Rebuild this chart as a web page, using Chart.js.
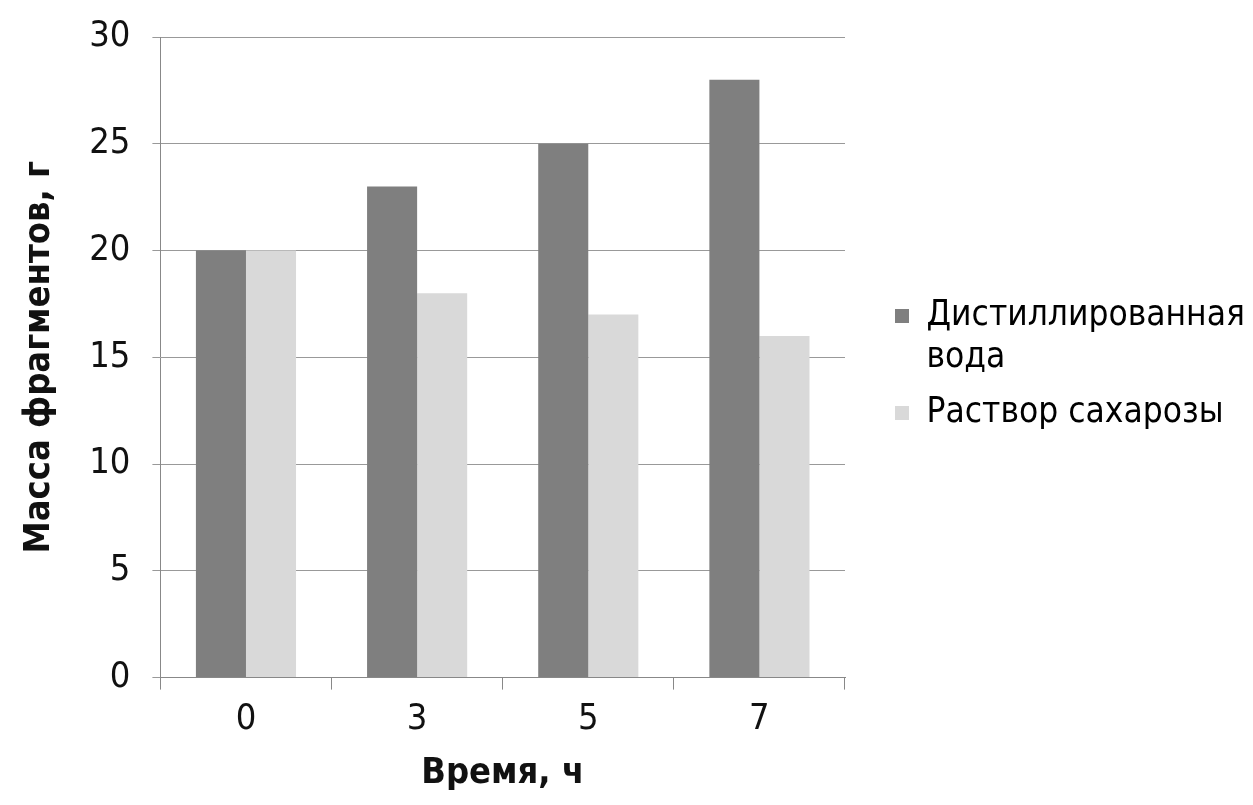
<!DOCTYPE html>
<html>
<head>
<meta charset="utf-8">
<script src="https://cdn.jsdelivr.net/npm/chart.js@4"></script>
<style>
  html, body { margin: 0; padding: 0; background: #fff; }
  #wrap { width: 1253px; height: 805px; }
</style>
</head>
<body>
<div id="wrap"><canvas id="myChart"></canvas></div>
<script>
const categories = ['0', '3', '5', '7'];
const waterValues = [20, 23, 25, 28];
const sucroseValues = [20, 18, 17, 16];
const seriesNames = ['Дистиллированная вода', 'Раствор сахарозы'];
const legendLines = [['Дистиллированная', 'вода'], ['Раствор сахарозы']];

const fontName = "'DejaVu Sans Condensed', 'DejaVu Sans', sans-serif";
const legendWidth = 400;
const legendShiftX = 37;
const legendShiftY = -48;

// legend on the right: fixed width, then nudged to where it sits in the picture
const legendPlacePlugin = {
  id: 'legendPlace',
  beforeLayout(chart) {
    const legend = chart.legend;
    if (!legend || legend._fixedFit) return;
    const origFit = legend.fit.bind(legend);
    legend.fit = function () {
      origFit();
      this.width = legendWidth;
    };
    legend._fixedFit = true;
  },
  afterLayout(chart) {
    const legend = chart.legend;
    if (!legend) return;
    legend.left += legendShiftX;
    legend.right += legendShiftX;
    legend.top += legendShiftY;
    legend.bottom += legendShiftY;
  }
};

const ctx = document.getElementById('myChart').getContext('2d');

new Chart(ctx, {
  type: 'bar',
  data: {
    labels: categories,
    datasets: [{
      label: seriesNames[0],
      data: waterValues,
      backgroundColor: '#7f7f7f'
    }, {
      label: seriesNames[1],
      data: sucroseValues,
      backgroundColor: '#d9d9d9'
    }]
  },
  plugins: [legendPlacePlugin],
  options: {
    responsive: true,
    maintainAspectRatio: false,
    animation: false,
    layout: { padding: { top: 37, left: 18, right: 8, bottom: 10 } },
    datasets: {
      bar: { categoryPercentage: 0.585, barPercentage: 1 }
    },
    plugins: {
      tooltip: { enabled: false },
      legend: {
        position: 'right',
        maxWidth: legendWidth,
        labels: {
          font: { family: fontName, size: 35 },
          color: '#111',
          boxWidth: 14,
          boxHeight: 14,
          padding: 13,
          generateLabels: chart => chart.data.datasets.map((ds, i) => ({
            text: legendLines[i],
            fillStyle: ds.backgroundColor,
            strokeStyle: ds.backgroundColor,
            lineWidth: 0,
            datasetIndex: i
          }))
        }
      }
    },
    scales: {
      x: {
        grid: {
          offset: true,
          drawOnChartArea: false,
          color: '#888',
          tickLength: 12
        },
        border: { color: '#888' },
        ticks: {
          font: { family: fontName, size: 36 },
          color: '#111',
          padding: 8
        },
        title: {
          display: true,
          text: 'Время, ч',
          font: { family: fontName, size: 36, weight: 'bold' },
          color: '#111',
          padding: { top: 3, bottom: 0 }
        }
      },
      y: {
        min: 0,
        max: 30,
        afterFit: scale => {
          scale.paddingTop = 0;
        },
        ticks: {
          stepSize: 5,
          font: { family: fontName, size: 36 },
          color: '#111',
          padding: 22
        },
        grid: {
          color: '#999',
          tickLength: 8
        },
        border: { color: '#888' },
        title: {
          display: true,
          text: 'Масса фрагментов, г',
          font: { family: fontName, size: 36, weight: 'bold' },
          color: '#111',
          padding: { top: 0, bottom: 6 }
        }
      }
    }
  }
});
</script>
</body>
</html>
